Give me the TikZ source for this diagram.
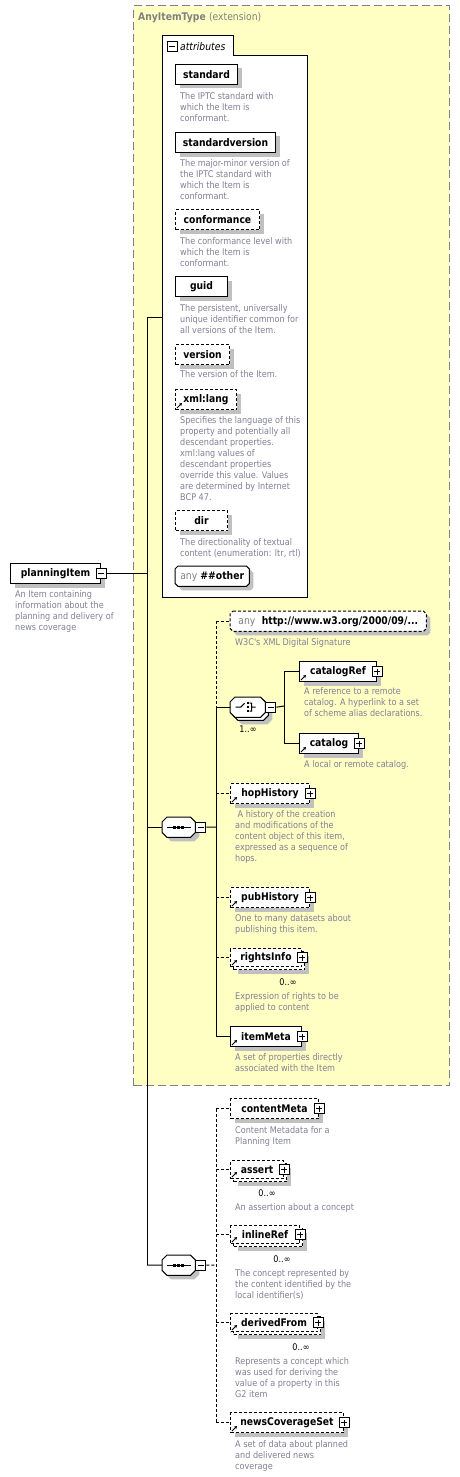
\documentclass[tikz,border=0pt]{standalone}
\usepackage{fontspec}
\newfontfamily\xsdfont[FakeStretch=0.88]{DejaVu Sans}
\usepackage{tikz}
\usetikzlibrary{
    arrows.meta,
    positioning,
    shadows
}
\definecolor{extyellow}{RGB}{255,255,196}
\definecolor{extgray}{RGB}{128,128,128}
\definecolor{shadowgray}{RGB}{192,192,192}
\definecolor{annotgray}{RGB}{128,128,150}
\newcommand\lblfont{\xsdfont\bfseries\fontsize{10.5}{12}\selectfont}
\newcommand\dscfont{\xsdfont\fontsize{9.2}{11}\selectfont}
\tikzset{
    xsdshadow/.style = {drop shadow={shadow xshift=4pt, shadow yshift=-4pt,
                        fill=shadowgray, opacity=1}},
    dashline/.style  = {dash pattern=on 3pt off 2pt},
    elbox/.style     = {rectangle, draw, fill=white, line width=1pt, inner sep=0pt,
                        minimum height=20pt, anchor=north west, font=\lblfont},
    reqel/.style     = {elbox, xsdshadow},
    optel/.style     = {elbox, xsdshadow, dashline},
    stackel/.style   = {elbox, dashline, minimum height=18pt},
    octslot/.style   = {rectangle, inner sep=0pt, minimum height=20pt, anchor=north west},
    octtext/.style   = {inner sep=0pt, font=\lblfont},
    octreq/.style    = {line width=1pt, fill=white, xsdshadow},
    octopt/.style    = {octreq, dashline},
    octplain/.style  = {line width=1pt, fill=white},
    plusbox/.style   = {rectangle, draw, fill=white, line width=1pt, minimum size=10pt,
                        inner sep=0pt,
                        path picture={\draw[line width=1pt]
                          ([xshift=2pt]path picture bounding box.west) --
                          ([xshift=-2pt]path picture bounding box.east)
                          ([yshift=-2pt]path picture bounding box.north) --
                          ([yshift=2pt]path picture bounding box.south);}},
    minusbox/.style  = {rectangle, draw, fill=white, line width=1pt, minimum size=10pt,
                        inner sep=0pt,
                        path picture={\draw[line width=1pt]
                          ([xshift=2pt]path picture bounding box.west) --
                          ([xshift=-2pt]path picture bounding box.east);}},
    desc/.style      = {anchor=north west, inner sep=0pt, align=left, font=\dscfont,
                        text=annotgray},
    mult/.style      = {inner sep=0pt, font=\dscfont, text=black},
    conn/.style      = {line width=1pt},
    optconn/.style   = {conn, dashline},
    refarrow/.style  = {line width=0.9pt, -{Stealth[length=3pt,width=3.5pt]}}
}

\begin{document}
\begin{tikzpicture}[x=1pt, y=-1pt]
\useasboundingbox (0,0) rectangle (460,1477);
% extension base type
\node[rectangle, fill=extyellow, draw=extgray, line width=1.3pt,
      dash pattern=on 8pt off 4pt, inner sep=0pt, minimum width=316pt,
      minimum height=1080pt, anchor=north west] (ext) at (133,5) {};
\node[anchor=west, inner sep=0pt, font=\lblfont, text=extgray] (ext-t) at (138,18)
   {AnyItemType {\mdseries(extension)}};

% attributes
\node[rectangle, draw, fill=white, line width=1pt, inner sep=0pt, minimum width=145pt,
      minimum height=542pt, anchor=north west] (attr) at (162,55) {};
\node[rectangle, fill=white, inner sep=0pt, minimum width=71pt, minimum height=20pt,
      anchor=north west] (attr-t) at (162,36) {};
\draw[conn] (attr-t.south west) -- (attr-t.north west) -- (attr-t.north east)
   -- (attr-t.south east);
\node[minusbox] (attr-m) at (172,47) {};
\node[anchor=west, inner sep=0pt, font=\xsdfont\itshape\fontsize{10.5}{12}\selectfont]
   (attr-l) at (180,47) {attributes};

\node[reqel, minimum width=62pt]  (st) at (175,64)  {standard};
\node[desc] (st-d) at (180,92) {The IPTC standard with\\which the Item is\\conformant.};
\node[reqel, minimum width=100pt] (sv) at (175,132) {standardversion};
\node[desc] (sv-d) at (180,159) {The major-minor version of\\the IPTC standard with\\which the Item is\\conformant.};
\node[optel, minimum width=84pt]  (cf) at (175,209) {conformance};
\node[desc] (cf-d) at (180,237) {The conformance level with\\which the Item is\\conformant.};
\node[reqel, minimum width=52pt]  (gu) at (175,276) {guid};
\node[desc] (gu-d) at (180,304) {The persistent, universally\\unique identifier common for\\all versions of the Item.};
\node[optel, minimum width=54pt]  (vs) at (175,344) {version};
\node[desc] (vs-d) at (180,370) {The version of the Item.};
\node[optel, minimum width=61pt]  (xl) at (175,389) {xml:lang};
\node[desc] (xl-d) at (180,416) {Specifies the language of this\\property and potentially all\\descendant properties.\\xml:lang values of\\descendant properties\\override this value. Values\\are determined by Internet\\BCP 47.};
\node[optel, minimum width=52pt]  (di) at (175,510) {dir};
\node[desc] (di-d) at (180,538) {The directionality of textual\\content (enumeration: ltr, rtl)};

% root element
\node[reqel, minimum width=90pt] (pi) at (10,563) {planningItem};
\node[minusbox] (pi-m) at (pi.east) {};
\node[desc] (pi-d) at (15,590) {An Item containing\\information about the\\planning and delivery of\\news coverage};

% octagonal particles: wildcards, choice, sequences
\node[octslot, minimum width=74pt]  (ao)   at (175,566) {};
\node[octslot, minimum width=196pt] (sig)  at (230,611) {};
\node[octslot, minimum width=35pt]  (ch-s) at (233,700) {};
\node[octslot, minimum width=35pt]  (ch)   at (230,697) {};
\node[octslot, minimum width=33pt]  (s1)   at (162,817) {};
\node[octslot, minimum width=33pt]  (s2)   at (162,1255) {};
\foreach \n/\c/\sty in {ao/3/octreq, sig/3/octopt, ch-s/5/octreq, ch/5/octplain,
                        s1/5/octreq, s2/5/octreq}
   \draw[\sty]
      ([xshift=\c pt]\n.north west) -- ([xshift=-\c pt]\n.north east)
      -- ([yshift=-\c pt]\n.north east) -- ([yshift=\c pt]\n.south east)
      -- ([xshift=-\c pt]\n.south east) -- ([xshift=\c pt]\n.south west)
      -- ([yshift=\c pt]\n.south west) -- ([yshift=-\c pt]\n.north west) -- cycle;
\node[octtext] (ao-t) at (ao.center) {{\mdseries\color{extgray}any}\ \#\#other};
\node[octtext] (sig-t) at (sig.center)
   {{\mdseries\color{extgray}any}\ \ http://www.w3.org/2000/09/...};
\node[desc] (sig-d) at (235,638) {W3C's XML Digital Signature};
\foreach \s in {s1,s2} {
   \draw[line width=1pt] ([xshift=-12pt]\s.center) -- ([xshift=12pt]\s.center);
   \foreach \d in {-4,0,4}
      \fill ([xshift=\d pt]\s.center) +(-1.5,-1.5) rectangle +(1.5,1.5);
}
\node[minusbox, right=0pt of s1] (s1-m) {};
\node[minusbox, right=0pt of s2] (s2-m) {};

% choice
\draw[line width=1pt, shift={(ch.center)}] (-12,0) -- (-7,0) -- (-3,-4)
   (2,-4) -- (4,-4) -- (4,4) -- (2,4) (4,0) -- (8,0);
\foreach \d in {-4,0,4}
   \fill[shift={(ch.center)}] (-1.2,\d-1.2) rectangle (1.2,\d+1.2);
\node[minusbox, right=0pt of ch] (ch-m) {};
\node[mult] (ch-n) at (248,729) {1..∞};

\node[reqel, minimum width=77pt] (cr) at (299,661) {catalogRef};
\node[desc] (cr-d) at (304,687) {A reference to a remote\\catalog. A hyperlink to a set\\of scheme alias declarations.};
\node[reqel, minimum width=59pt] (ca) at (299,733) {catalog};
\node[desc] (ca-d) at (304,760) {A local or remote catalog.};

% first sequence
\node[optel, minimum width=79pt] (hh) at (230,783) {hopHistory};
\node[desc] (hh-d) at (235,810) {\hspace*{2.5pt}A history of the creation\\and modifications of the\\content object of this item,\\expressed as a sequence of\\hops.};
\node[optel, minimum width=79pt] (ph) at (230,887) {pubHistory};
\node[desc] (ph-d) at (235,914) {One to many datasets about\\publishing this item.};
\node[stackel, xsdshadow, minimum width=71pt] (ri-s) at (233,951) {};
\node[stackel, minimum width=71pt] (ri) at (230,948) {rightsInfo};
\node[mult] (ri-n) at (288,982) {0..∞};
\node[desc] (ri-d) at (235,992) {Expression of rights to be\\applied to content};
\node[reqel, minimum width=71pt] (im) at (230,1026) {itemMeta};
\node[desc] (im-d) at (235,1053) {A set of properties directly\\associated with the Item};

% second sequence
\node[optel, minimum width=88pt] (cm) at (230,1098) {contentMeta};
\node[desc] (cm-d) at (235,1126) {Content Metadata for a\\Planning Item};
\node[stackel, xsdshadow, minimum width=53pt] (as-s) at (233,1163) {};
\node[stackel, minimum width=53pt] (as) at (230,1160) {assert};
\node[mult] (as-n) at (267,1193) {0..∞};
\node[desc] (as-d) at (235,1203) {An assertion about a concept};
\node[stackel, xsdshadow, minimum width=69pt] (ir-s) at (233,1228) {};
\node[stackel, minimum width=69pt] (ir) at (230,1225) {inlineRef};
\node[mult] (ir-n) at (282,1259) {0..∞};
\node[desc] (ir-d) at (235,1269) {The concept represented by\\the content identified by the\\local identifier(s)};
\node[stackel, xsdshadow, minimum width=87pt] (df-s) at (233,1316) {};
\node[stackel, minimum width=87pt] (df) at (230,1313) {derivedFrom};
\node[mult] (df-n) at (301,1347) {0..∞};
\node[desc] (df-d) at (235,1357) {Represents a concept which\\was used for deriving the\\value of a property in this\\G2 item};
\node[optel, minimum width=113pt] (nc) at (230,1412) {newsCoverageSet};
\node[desc] (nc-d) at (235,1440) {A set of data about planned\\and delivered news\\coverage};

\foreach \n in {cr,ca,hh,ph,ri,im,cm,as,ir,df,nc}
   \node[plusbox] (\n-p) at (\n.east) {};
\foreach \n in {xl,cr,ca,hh,ph,ri,im,as,ir,df,nc}
   \draw[refarrow] ([xshift=2pt,yshift=2pt]\n.south west) -- ++(5,-5);

% connectors
\coordinate (t-top) at (147,317);
\coordinate (t-bot) at (147,1265);
\coordinate (br1) at (216,827);
\coordinate (br2) at (284,706);
\coordinate (br3) at (216,1265);
\draw[conn] (pi-m.east) -- (pi-m.east -| t-top);
\draw[conn] (t-top) -- (t-bot);
\draw[conn] (t-top) -- (t-top -| attr.west);
\draw[conn] (s1.west -| t-top) -- (s1.west);
\draw[conn] (t-bot) -- (s2.west);
\draw[conn] (s1-m.east) -- (br1);
\draw[optconn] (sig.west -| br1) -- (ch.west -| br1);
\draw[conn] (ch.west -| br1) -- (im.west -| br1);
\foreach \n in {sig,hh,ph,ri}
   \draw[optconn] (\n.west -| br1) -- (\n.west);
\foreach \n in {ch,im}
   \draw[conn] (\n.west -| br1) -- (\n.west);
\draw[conn] (ch-m.east) -- (br2);
\draw[conn] (cr.west -| br2) -- (ca.west -| br2);
\foreach \n in {cr,ca}
   \draw[conn] (\n.west -| br2) -- (\n.west);
\draw[optconn] (s2-m.east) -- (br3);
\draw[optconn] (cm.west -| br3) -- (nc.west -| br3);
\foreach \n in {cm,as,ir,df,nc}
   \draw[optconn] (\n.west -| br3) -- (\n.west);
\end{tikzpicture}
\end{document}
